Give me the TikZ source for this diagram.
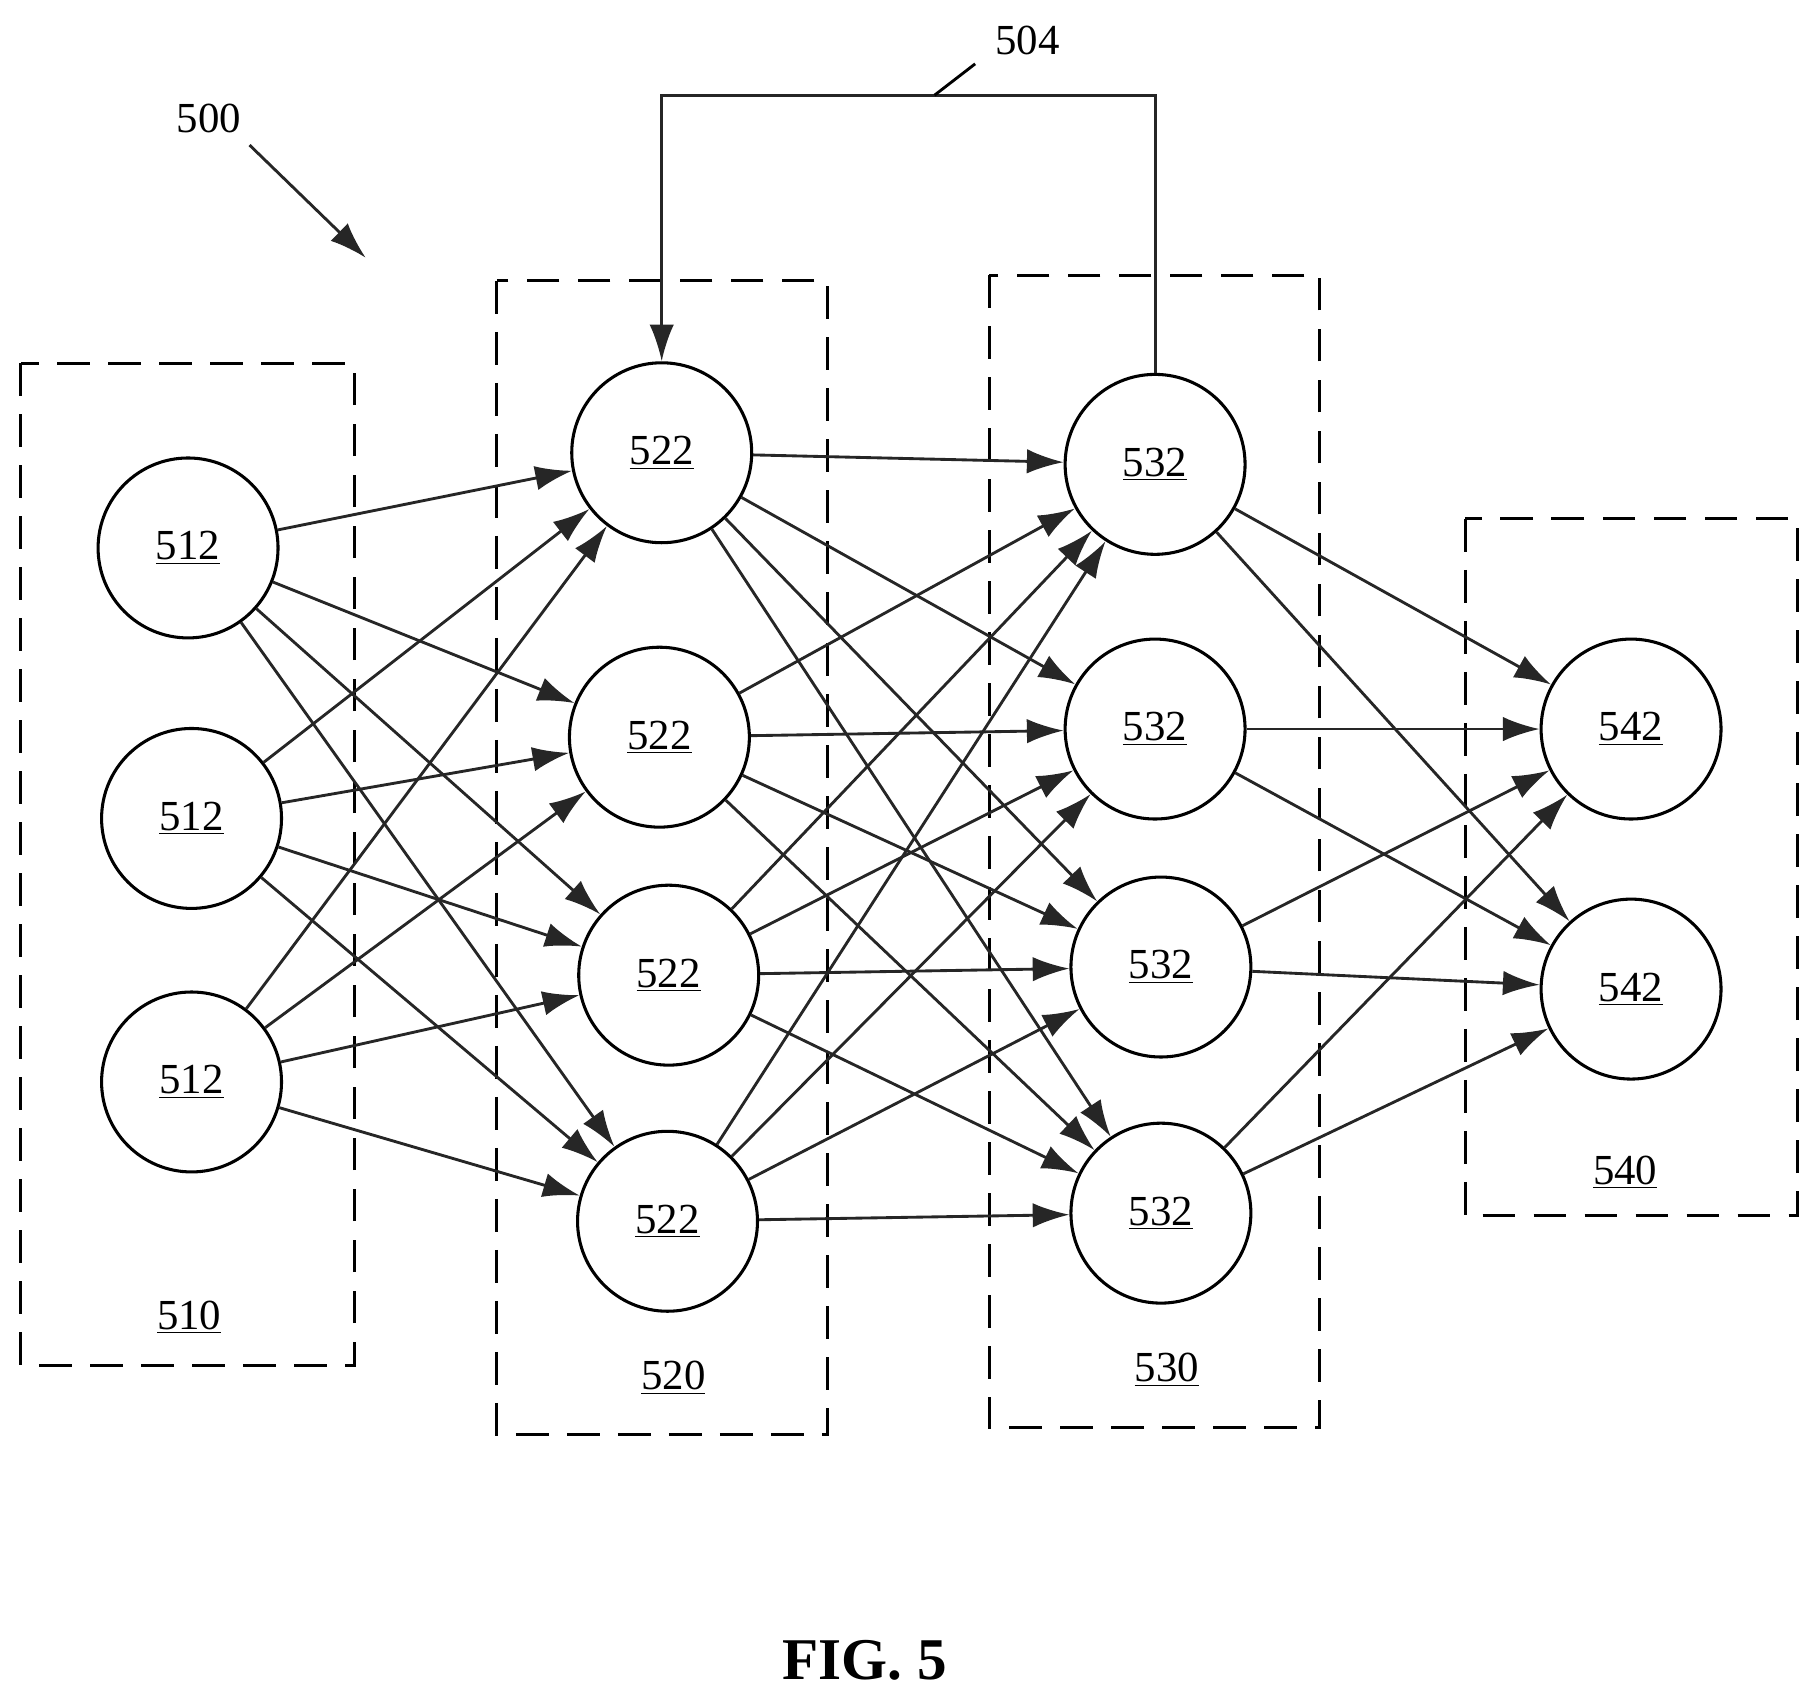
\documentclass[tikz,border=0pt]{standalone}
\usepackage{fontspec}
\setmainfont{Liberation Serif}
\usepackage{tikz}
\usetikzlibrary{arrows.meta}
\tikzset{
  unit/.style={draw, shape=circle, line width=1.5pt, minimum size=3.1cm, inner sep=0pt, font=\fontsize{21}{24}\selectfont},
  layer/.style={draw, dashed, dash pattern=on 16pt off 9pt, line width=1.5pt},
  tag/.style={font=\fontsize{21}{24}\selectfont},
  link/.style={-{Latex[length=18pt,width=12pt]}, line width=1.4pt, draw=black!85}
}
\begin{document}
\begin{tikzpicture}
\useasboundingbox (0,0) rectangle (31.2,-29.24);
% dashed layer boxes
\draw[layer] (0.36,-6.26) rectangle (6.1,-23.52);
\draw[layer] (8.56,-4.84) rectangle (14.26,-24.72);
\draw[layer] (17.04,-4.74) rectangle (22.74,-24.6);
\draw[layer] (25.24,-8.94) rectangle (30.96,-20.94);
\node[tag] (l510) at (3.26,-22.7) {\underline{510}};
\node[tag] (l520) at (11.6,-23.74) {\underline{520}};
\node[tag] (l530) at (20.1,-23.6) {\underline{530}};
\node[tag] (l540) at (28,-20.2) {\underline{540}};
% units
\node[unit] (i1) at (3.24,-9.44) {\underline{512}};
\node[unit] (i2) at (3.30,-14.10) {\underline{512}};
\node[unit] (i3) at (3.30,-18.64) {\underline{512}};
\node[unit] (h1) at (11.4,-7.8) {\underline{522}};
\node[unit] (h2) at (11.36,-12.7) {\underline{522}};
\node[unit] (h3) at (11.52,-16.8) {\underline{522}};
\node[unit] (h4) at (11.5,-21.04) {\underline{522}};
\node[unit] (g1) at (19.9,-8.0) {\underline{532}};
\node[unit] (g2) at (19.9,-12.56) {\underline{532}};
\node[unit] (g3) at (20.0,-16.66) {\underline{532}};
\node[unit] (g4) at (20.0,-20.9) {\underline{532}};
\node[unit] (o1) at (28.1,-12.56) {\underline{542}};
\node[unit] (o2) at (28.1,-17.04) {\underline{542}};
% connections
\foreach \a in {1,2,3}
  \foreach \b in {1,2,3,4}
    \draw[link] (i\a) -- (h\b);
\foreach \a in {1,2,3,4}
  \foreach \b in {1,2,3,4}
    \draw[link] (h\a) -- (g\b);
\foreach \a in {1,2,3,4}
  \foreach \b in {1,2}
    \draw[link] (g\a) -- (o\b);
% feedback path
\coordinate (fb) at (15.9,-1.64);
\draw[link] (g1.north) |- (fb) -| (h1.north);
\node[tag] (l504) at (17.7,-0.7) {504};
\draw[line width=1.4pt] (16.1,-1.64) -- (16.8,-1.1);
% reference arrow
\node[tag] (l500) at (3.6,-2.04) {500};
\coordinate (tip) at (6.3,-4.44);
\draw[link] (4.3,-2.5) -- (tip);
\node[font=\bfseries\fontsize{29}{32}\selectfont] (cap) at (14.9,-28.6) {FIG. 5};
\end{tikzpicture}
\end{document}
